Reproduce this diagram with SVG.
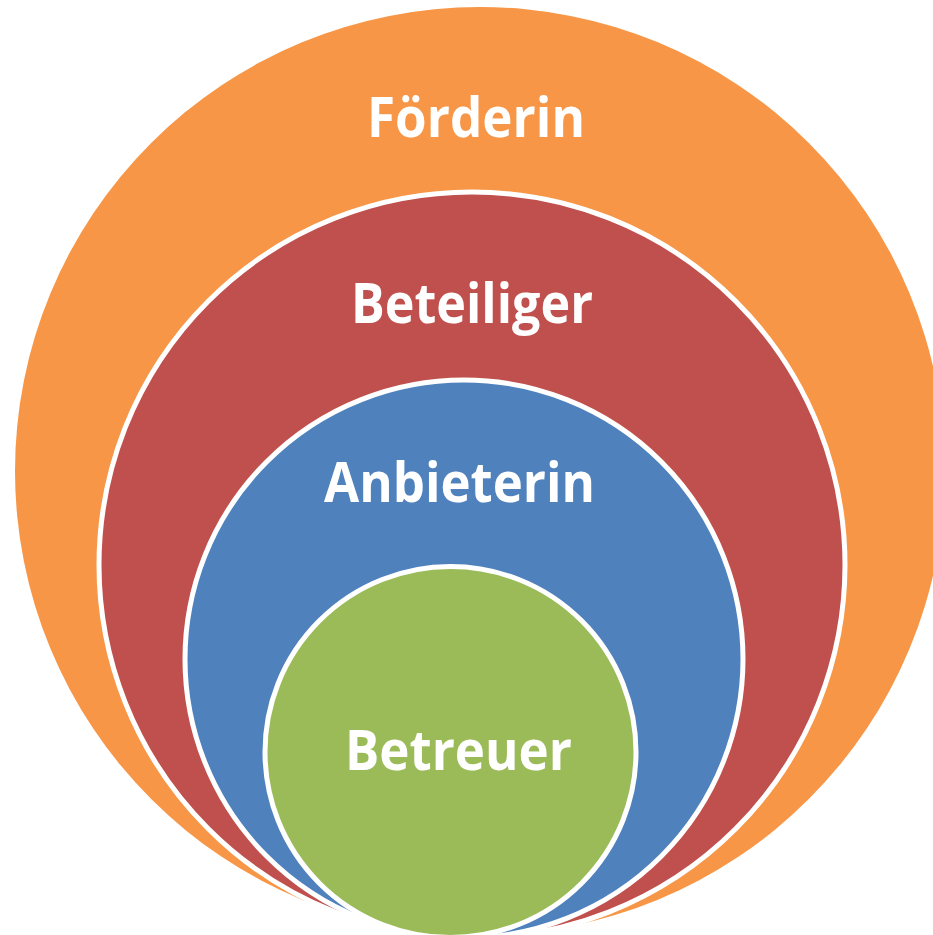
<svg xmlns="http://www.w3.org/2000/svg" width="933" height="935" viewBox="0 0 933 935">
<style>
.c{stroke:#fff;stroke-width:5}
.t{font-family:"Open Sans","Noto Sans","Liberation Sans",sans-serif;font-weight:bold;font-size:55px;fill:#fff;text-anchor:middle}
</style>
<rect width="933" height="935" fill="#fff"/>
<g id="foerderin">
<ellipse cx="480" cy="471" rx="465" ry="464" fill="#F79646"/>
<text class="t" x="476" y="137" textLength="218" lengthAdjust="spacingAndGlyphs">Förderin</text>
</g>
<g id="beteiliger">
<circle class="c" cx="472" cy="565" r="373" fill="#C0504D"/>
<text class="t" x="472" y="323" textLength="242" lengthAdjust="spacingAndGlyphs">Beteiliger</text>
</g>
<g id="anbieterin">
<circle class="c" cx="464" cy="659" r="279" fill="#4F81BD"/>
<text class="t" x="459.5" y="502" textLength="271" lengthAdjust="spacingAndGlyphs">Anbieterin</text>
</g>
<g id="betreuer">
<circle class="c" cx="450.5" cy="752" r="185.5" fill="#9BBB59"/>
<text class="t" x="458.5" y="770" textLength="227" lengthAdjust="spacingAndGlyphs">Betreuer</text>
</g>
<g id="connectors"/>
</svg>
